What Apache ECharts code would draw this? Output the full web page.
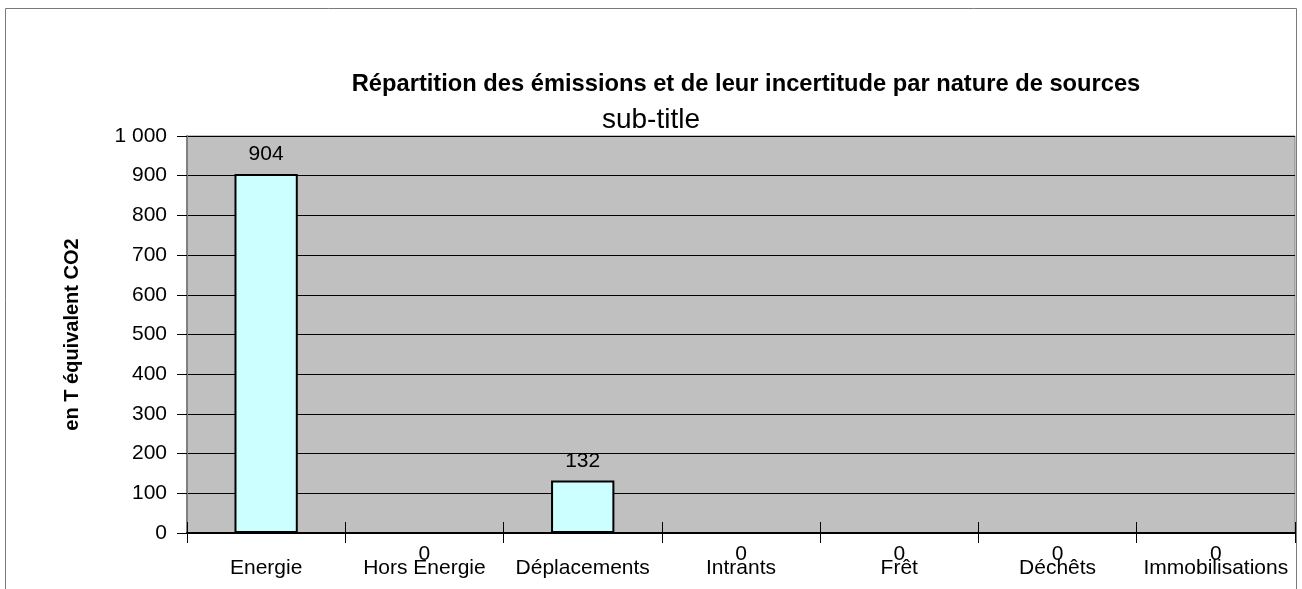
<!DOCTYPE html>
<html>
<head>
<meta charset="utf-8">
<title>Répartition des émissions</title>
<script src="https://cdn.jsdelivr.net/npm/echarts@6/dist/echarts.min.js"></script>
<style>
    html, body { margin: 0; padding: 0; background: #fff; }
    #chart { width: 1302px; height: 589px; }
</style>
</head>
<body>
<div id="chart"></div>
<script>
// données du graphique
const categories = ['Energie', 'Hors Energie', 'Déplacements', 'Intrants', 'Frêt', 'Déchêts', 'Immobilisations'];
const emissions = [904, 0, 132, 0, 0, 0, 0];
const yTicks = [0, 100, 200, 300, 400, 500, 600, 700, 800, 900, 1000];

const font = "'Liberation Sans', Arial, sans-serif";

// séparateur de milliers avec espace
function formatNumber(v) {
    return String(v).replace(/\B(?=(\d{3})+(?!\d))/g, ' ');
}

// les valeurs nulles ont leur étiquette sous l'axe
const barData = emissions.map(v => {
    if (v === 0) {
        return { value: v, label: { position: 'bottom', distance: 10 } };
    }
    return v;
});

const chart = echarts.init(document.getElementById('chart'));

const option = {
    animation: false,
    textStyle: { fontFamily: font },
    graphic: [
        {
            type: 'rect',
            shape: { x: 5.5, y: 8.5, width: 1291, height: 620 },
            style: { fill: 'none', stroke: '#7a7a7a', lineWidth: 1 },
            silent: true
        }
    ],
    title: [
        {
            text: 'Répartition des émissions et de leur incertitude par nature de sources',
            left: 741,
            top: 67,
            textAlign: 'center',
            textStyle: { fontFamily: font, fontSize: 23.7, fontWeight: 'bold', color: '#000' }
        },
        {
            text: 'sub-title',
            left: 646,
            top: 101,
            textAlign: 'center',
            textStyle: { fontFamily: font, fontSize: 28, fontWeight: 'normal', color: '#000' }
        }
    ],
    grid: {
        left: 187,
        right: 7,
        top: 136,
        bottom: 56,
        show: true,
        backgroundColor: '#c0c0c0',
        borderColor: '#808080',
        borderWidth: 1
    },
    xAxis: [
        {
            type: 'category',
            data: categories,
            axisLine: { lineStyle: { color: '#000', width: 2 } },
            axisTick: { show: true, length: 10, alignWithLabel: false, lineStyle: { color: '#000' } },
            axisLabel: { margin: 25, fontSize: 21, color: '#000', interval: 0, fontFamily: font }
        },
        {
            type: 'category',
            data: categories,
            position: 'bottom',
            axisLine: { show: false },
            axisTick: { show: true, inside: true, length: 11, lineStyle: { color: '#000' } },
            axisLabel: { show: false }
        }
    ],
    yAxis: {
        type: 'value',
        min: yTicks[0],
        max: yTicks[yTicks.length - 1],
        interval: 100,
        name: 'en T équivalent CO2',
        nameLocation: 'middle',
        nameGap: 105,
        nameTextStyle: { fontFamily: font, fontSize: 20, fontWeight: 'bold', color: '#000' },
        axisLine: { show: true, lineStyle: { color: '#808080', width: 2 } },
        axisTick: { show: true, length: 10, lineStyle: { color: '#000' } },
        axisLabel: {
            margin: 20,
            fontSize: 21,
            color: '#000',
            fontFamily: font,
            formatter: formatNumber
        },
        splitLine: { show: true, lineStyle: { color: '#000', width: 1 } }
    },
    series: [
        {
            type: 'bar',
            data: barData,
            barWidth: '40%',
            itemStyle: { color: '#ccffff', borderColor: '#000', borderWidth: 2 },
            label: {
                show: true,
                position: 'top',
                distance: 9,
                fontSize: 21,
                color: '#000',
                fontFamily: font
            }
        }
    ]
};

chart.setOption(option);

window.addEventListener('resize', () => {
    chart.resize();
});
</script>
</body>
</html>
